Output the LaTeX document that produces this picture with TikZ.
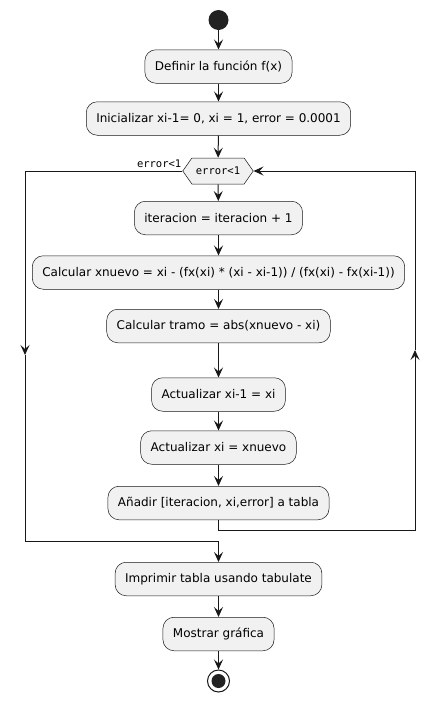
\documentclass[tikz,border=0pt]{standalone}
\usepackage{fontspec}
\setmainfont{DejaVu Sans}
\newfontfamily\monofont{DejaVu Sans Mono}
\usetikzlibrary{arrows.meta,shapes.symbols}
\definecolor{boxfill}{HTML}{F1F1F1}
\definecolor{ink}{HTML}{181818}
\definecolor{dot}{HTML}{222222}

\begin{document}
\begin{tikzpicture}[x=1pt,y=-1pt]
\useasboundingbox (0,0) rectangle (439,702);
\tikzstyle{act}=[draw=ink, fill=boxfill, line width=0.5pt, rounded corners=11pt, minimum height=33.5pt, inner xsep=10pt, font=\fontsize{12}{14}\selectfont]
\tikzstyle{cond}=[draw=ink, fill=boxfill, line width=0.5pt, shape=signal, signal to=west and east, signal pointer angle=110, minimum height=26pt, inner xsep=4pt, font=\monofont\fontsize{10.5}{12}\selectfont]
\tikzstyle{flow}=[draw=ink, line width=1pt, -{Stealth[length=10pt,width=9pt,inset=4pt]}]
\tikzstyle{wire}=[draw=ink, line width=1pt]
% start / stop
\node[circle, fill=dot, minimum size=20pt, inner sep=0pt] (start) at (218.5,20) {};
\node[circle, draw=ink, line width=1pt, fill=white, minimum size=22pt, inner sep=0pt] (stop) at (218.5,681) {};
\node[circle, fill=dot, minimum size=14pt, inner sep=0pt] (stopdot) at (218.5,681) {};
% activities
\node[act] (def) at (218.5,66.5) {Definir la función f(x)};
\node[act] (init) at (218.5,118.5) {Inicializar xi-1= 0, xi = 1, error = 0.0001};
\node[cond] (loop) at (218,171) {error<1};
\node[anchor=south east, inner sep=1pt, font=\monofont\fontsize{10.5}{12}\selectfont] (looplbl) at ([yshift=2pt]loop.west) {error<1};
\node[act] (iter) at (218.5,218) {iteracion = iteracion + 1};
\node[act] (calc) at (218.5,272.5) {Calcular xnuevo = xi - (fx(xi) * (xi - xi-1)) / (fx(xi) - fx(xi-1))};
\node[act] (tramo) at (218.5,326) {Calcular tramo = abs(xnuevo - xi)};
\node[act] (upd1) at (218.5,394.5) {Actualizar xi-1 = xi};
\node[act] (upd2) at (218.5,447.5) {Actualizar xi = xnuevo};
\node[act] (add) at (218.5,503) {Añadir [iteracion, xi,error] a tabla};
\node[act] (print) at (218.5,579) {Imprimir tabla usando tabulate};
\node[act] (show) at (218.5,634) {Mostrar gráfica};
% loop corners
\coordinate (lmid) at (25,355);
\coordinate (lbot) at (218.5,541);
\coordinate (rbot) at (415,530);
\coordinate (rmid) at (415,350);
% connectors
\draw[flow] (start) -- (def);
\draw[flow] (def) -- (init);
\draw[flow] (init) -- (loop);
\draw[flow] (loop) -- (iter);
\draw[flow] (iter) -- (calc);
\draw[flow] (calc) -- (tramo);
\draw[flow] (tramo) -- (upd1);
\draw[flow] (upd1) -- (upd2);
\draw[flow] (upd2) -- (add);
\draw[flow] (add.south) |- (rbot) -- (rmid);
\draw[flow] (rmid) |- (loop.east);
\draw[flow] (loop.west) -| (lmid);
\draw[wire] (lmid) |- (lbot);
\draw[flow] (lbot) -- (print);
\draw[flow] (print) -- (show);
\draw[flow] (show) -- (stop);
\end{tikzpicture}
\end{document}
